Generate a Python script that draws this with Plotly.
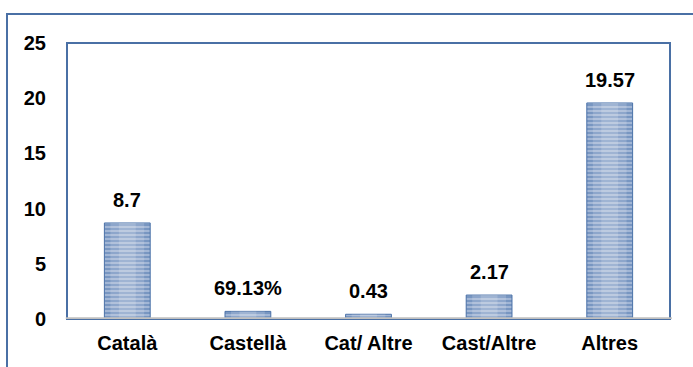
import plotly.graph_objects as go

categories = ["Català", "Castellà", "Cat/ Altre", "Cast/Altre", "Altres"]
values = [8.7, 0.6913, 0.43, 2.17, 19.57]
value_labels = ["8.7", "69.13%", "0.43", "2.17", "19.57"]
y_ticks = [0, 5, 10, 15, 20, 25]

FONT = "Liberation Sans, Arial, sans-serif"
BLUE = "#4a70a5"
TEXT = dict(family=FONT, size=20, color="#000000", weight="bold")

fig = go.Figure()

# striped bars
fig.add_trace(go.Bar(
    x=categories, y=values, width=0.38,
    marker=dict(
        color="#cddcf0",
        line=dict(width=1, color="#4f76ad"),
        pattern=dict(shape="-", fgcolor="#3966a8", bgcolor="#d3e0f2",
                     size=4, solidity=0.7),
    ),
    hoverinfo="skip",
))
# shading bands: darker edges, lighter middle
for w, col in [(0.38, "rgba(25,55,105,0.12)"),
               (0.28, "rgba(255,255,255,0.16)"),
               (0.14, "rgba(255,255,255,0.16)")]:
    fig.add_trace(go.Bar(
        x=categories, y=values, width=w,
        marker=dict(color=col, line=dict(width=0)),
        hoverinfo="skip",
    ))

for cat, val, lab in zip(categories, values, value_labels):
    fig.add_annotation(
        x=cat, y=val, text=lab, showarrow=False,
        yanchor="bottom", yshift=10, font=TEXT,
    )

# outer frame
fig.add_shape(type="rect", xref="paper", yref="paper",
              x0=-0.0995, x1=1.2, y0=-0.5, y1=1.105,
              line=dict(color=BLUE, width=2), layer="below")
# plot frame
fig.add_shape(type="rect", xref="paper", yref="paper",
              x0=0, x1=1, y0=0, y1=1,
              line=dict(color=BLUE, width=2), layer="above")
# baseline
fig.add_shape(type="line", xref="paper", yref="y",
              x0=-0.002, x1=1.003, y0=0, y1=0,
              line=dict(color="#bfbfbf", width=3.5), layer="above")

fig.update_layout(
    width=693, height=367,
    margin=dict(l=67, r=23, t=43, b=48),
    paper_bgcolor="white", plot_bgcolor="white",
    barmode="overlay", showlegend=False,
    font=TEXT,
)
fig.update_xaxes(
    showgrid=False, zeroline=False, showline=False,
    ticks="outside", ticklen=6, tickcolor="rgba(0,0,0,0)",
    tickfont=TEXT,
)
fig.update_yaxes(
    range=[0, 25], tickvals=y_ticks, showgrid=False, zeroline=False,
    showline=False, ticks="outside", ticklen=16, tickcolor="rgba(0,0,0,0)",
    tickfont=TEXT,
)

fig.write_html("out.html")
